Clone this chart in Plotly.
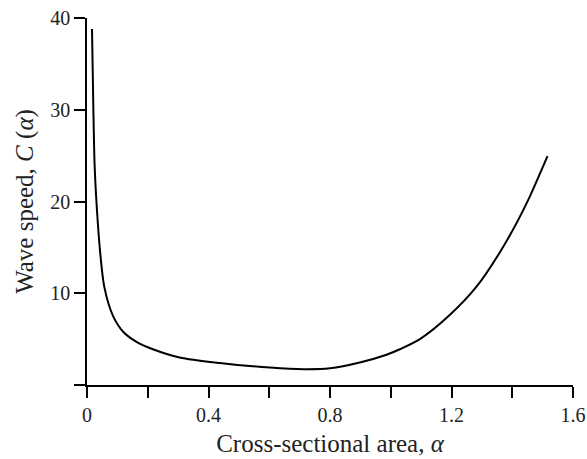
import plotly.graph_objects as go

# Data
alpha = [0.0165, 0.021, 0.025, 0.031, 0.043, 0.057, 0.086, 0.119, 0.163, 0.217,
         0.305, 0.437, 0.602, 0.712, 0.80, 0.898, 0.986, 1.03, 1.096, 1.195,
         1.283, 1.36, 1.415, 1.453, 1.516]
wave_speed = [38.8, 30.0, 24.0, 20.0, 14.6, 10.7, 7.5, 5.8, 4.7, 3.9,
              3.0, 2.4, 1.9, 1.72, 1.82, 2.45, 3.3, 3.9, 5.0, 7.65,
              10.74, 14.5, 17.7, 20.2, 24.95]

x_tickvals = [0, 0.2, 0.4, 0.6, 0.8, 1.0, 1.2, 1.4, 1.6]
x_ticktext = ["0", "", "0.4", "", "0.8", "", "1.2", "", "1.6"]
y_tickvals = [0, 10, 20, 30, 40]
y_ticktext = ["", "10", "20", "30", "40"]

font_family = "Liberation Serif, Times New Roman, serif"
text_color = "#222222"

fig = go.Figure()
fig.add_trace(go.Scatter(
    x=alpha, y=wave_speed, mode="lines",
    line=dict(color="black", width=2, shape="spline", smoothing=0.8),
    showlegend=False, hoverinfo="skip"))

fig.update_layout(
    width=587, height=459,
    margin=dict(l=87, r=14, t=18, b=74),
    paper_bgcolor="white", plot_bgcolor="white",
    font=dict(family=font_family, color=text_color, size=20),
)
fig.update_xaxes(
    range=[0, 1.6], tickvals=x_tickvals, ticktext=x_ticktext,
    ticks="outside", ticklen=11, tickwidth=1.5, tickcolor="black",
    showline=True, linecolor="black", linewidth=1.5,
    showgrid=False, zeroline=False, automargin=False,
    ticklabeloverflow="allow",
    tickfont=dict(size=20, family=font_family, color=text_color),
    title=dict(text="Cross-sectional area, <i>α</i>",
               font=dict(size=25, family=font_family, color=text_color), standoff=10),
)
fig.update_yaxes(
    range=[0, 40], tickvals=y_tickvals, ticktext=y_ticktext,
    ticks="outside", ticklen=11, tickwidth=1.5, tickcolor="black",
    showline=True, linecolor="black", linewidth=1.5,
    showgrid=False, zeroline=False, automargin=False,
    ticklabeloverflow="allow",
    tickfont=dict(size=20, family=font_family, color=text_color),
    title=dict(text="Wave speed, <i>C</i> (<i>α</i>)",
               font=dict(size=25, family=font_family, color=text_color), standoff=10),
)

# remove the browser's default 8px page margin so the figure fills the window
fig.write_html("out.html",
               config={"displayModeBar": False},
               post_script="document.body.style.margin='0';document.body.style.overflow='hidden';")
